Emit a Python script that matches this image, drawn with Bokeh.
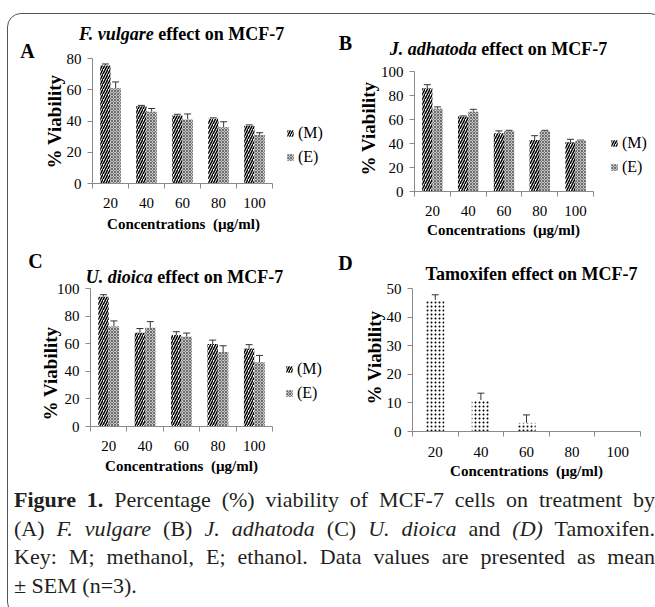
import math
from bokeh.plotting import figure
from bokeh.models import (Range1d, FixedTicker, Whisker, TeeHead, ColumnDataSource,
                          Label, Legend, LegendItem, Div, LinearAxis, Spacer)
from bokeh.layouts import row, column
from bokeh.embed import file_html
from bokeh.resources import INLINE

# ---------------- data ----------------
conc = ["20", "40", "60", "80", "100"]

fv_m = [75.5, 49.5, 43.5, 41.5, 37.0]
fv_m_err = [1.0, 0.5, 0.8, 0.5, 0.5]
fv_e = [61.0, 46.0, 41.0, 36.0, 31.0]
fv_e_err = [4.0, 2.0, 3.5, 3.5, 1.5]

ja_m = [86.0, 62.5, 48.5, 43.0, 41.0]
ja_m_err = [3.0, 0.5, 2.0, 3.5, 2.5]
ja_e = [69.0, 66.5, 50.5, 50.5, 42.5]
ja_e_err = [1.5, 2.0, 0.5, 0.5, 0.3]

ud_m = [94.0, 68.0, 66.3, 59.8, 56.6]
ud_m_err = [1.5, 3.0, 2.4, 2.8, 2.7]
ud_e = [72.5, 71.5, 65.0, 54.0, 46.5]
ud_e_err = [4.0, 4.5, 2.7, 4.5, 5.0]

tam = [46.0, 11.0, 3.0, 0.0, 0.0]
tam_err = [1.8, 2.4, 2.8, 0.0, 0.0]

yt_a = [0, 20, 40, 60, 80]
yt_b = [0, 20, 40, 60, 80, 100]
yt_c = [0, 20, 40, 60, 80, 100]
yt_d = [0, 10, 20, 30, 40, 50]

series_labels = ["(M)", "(E)"]

# ---------------- style ----------------
FONT = "Liberation Serif"
AX = "#8a8a8a"
INK = "#000000"
BOX_X, BOX_Y = 7, 13          # outer offset of the rounded frame
OX0, OY0 = BOX_X + 1, BOX_Y + 1  # page position of the content inside the 1px border

M_STYLE = dict(fill_color="white", hatch_pattern="right_diagonal_line", hatch_color="black",
               hatch_scale=5, hatch_weight=1.5)
E_STYLE = dict(fill_color="#c4c4c4", hatch_pattern="diagonal_cross", hatch_color="#6e6e6e",
               hatch_scale=3, hatch_weight=1)
T_STYLE = dict(fill_color="white", hatch_pattern="dot", hatch_color="black",
               hatch_scale=4, hatch_weight=3.8)


class Geo:
    def __init__(self, ox, oy, w, h):
        self.ox, self.oy, self.w, self.h = ox, oy, w, h


def panel(ox, oy, w, h, fl, fr, ft, fb, yticks, xstandoff):
    """Axis origin sits at page pixel (fl, fb); the axes end at (fr, ft)."""
    ncat = len(conc)
    ymax = yticks[-1]
    kx = (fr - fl) / ncat
    ky = (fb - ft) / ymax
    p = figure(width=w, height=h, output_backend="svg", toolbar_location=None,
               x_range=Range1d((ox - fl) / kx, (ox + w - fl) / kx),
               y_range=Range1d((fb - (oy + h)) / ky, (fb - oy) / ky),
               x_axis_location=None, y_axis_location=None,
               min_border=0, min_border_left=0, min_border_right=0,
               min_border_top=0, min_border_bottom=0)
    p.outline_line_color = None
    p.grid.visible = False
    p.background_fill_color = None
    p.border_fill_color = None

    centers = [i + 0.5 for i in range(ncat)]
    xa = LinearAxis(fixed_location=0, bounds=(0, ncat),
                    ticker=FixedTicker(ticks=centers, minor_ticks=list(range(ncat + 1))),
                    major_label_overrides={c: lab for c, lab in zip(centers, conc)})
    ya = LinearAxis(fixed_location=0, bounds=(0, ymax), ticker=FixedTicker(ticks=yticks))
    for ax in (xa, ya):
        ax.axis_line_color = AX
        ax.major_tick_line_color = AX
        ax.minor_tick_line_color = AX
        ax.major_label_text_font = FONT
        ax.major_label_text_font_size = "15px"
        ax.major_label_text_color = INK
    xa.major_tick_out = 0
    xa.major_tick_in = 0
    xa.minor_tick_out = 5
    xa.minor_tick_in = 0
    xa.major_label_standoff = xstandoff
    ya.major_tick_out = 5
    ya.major_tick_in = 0
    ya.minor_tick_line_color = None
    ya.major_label_standoff = 6
    p.add_layout(xa, "below")
    p.add_layout(ya, "left")
    p._geo = Geo(ox, oy, w, h)
    return p


def bars(p, vals, errs, offset, width, style):
    x = [i + 0.5 + offset for i in range(len(vals))]
    src = ColumnDataSource(dict(x=x, top=vals))
    r = p.vbar(x="x", top="top", bottom=0, width=width, source=src, line_color=None, **style)
    keep = [i for i, e in enumerate(errs) if e > 0]
    wsrc = ColumnDataSource(dict(x=[x[i] for i in keep],
                                 lo=[vals[i] for i in keep],
                                 up=[vals[i] + errs[i] for i in keep]))
    p.add_layout(Whisker(source=wsrc, base="x", lower="lo", upper="up", dimension="height",
                         line_color="#333333", line_width=1,
                         upper_head=TeeHead(size=7, line_color="#333333", line_width=1),
                         lower_head=None))
    return r


def put(p, px, py, text, size, style="bold", align="center", angle=0.0):
    g = p._geo
    p.add_layout(Label(x=px - g.ox, y=g.oy + g.h - py, x_units="screen", y_units="screen",
                       text=text, text_font=FONT, text_font_size=f"{size}px",
                       text_font_style=style, text_align=align, text_baseline="middle",
                       angle=angle, text_color=INK))


def title2(p, cx, cy, ital, rest, ital_em, rest_em, size=18):
    space = 0.25 * size
    total = (ital_em + rest_em) * size + space
    x0 = cx - total / 2
    split = x0 + ital_em * size
    put(p, split, cy, ital, size, "bold italic", "right")
    put(p, split + space, cy, rest, size, "bold", "left")


def legend(p, rm, re, swatch_left, top_center):
    g = p._geo
    bottom = top_center + 22 + 8 + 3
    leg = Legend(items=[LegendItem(label=series_labels[0], renderers=[rm]),
                        LegendItem(label=series_labels[1], renderers=[re])],
                 location=(swatch_left - g.ox, g.oy + g.h - bottom),
                 glyph_width=8, glyph_height=8, label_height=16, spacing=6,
                 padding=0, margin=0, label_standoff=4,
                 label_text_font=FONT, label_text_font_size="16px", label_text_color=INK,
                 background_fill_alpha=0, border_line_color=None)
    p.add_layout(leg)


BW2 = 1 / 3.5   # Excel gap width 150%, two series
BW1 = 1 / 2.5   # one series
CONC_LABEL = "Concentrations\u00a0 (\u00b5g/ml)"

W_L, W_R = 317, 328
H1, H2, H3 = 226, 240, 125

# ---- Panel A ----
ox, oy = OX0, OY0
pA = panel(ox, oy, W_L, H1, 92, 272, 58, 183, yt_a, 9)
rm = bars(pA, fv_m, fv_m_err, -BW2 / 2, BW2, M_STYLE)
re = bars(pA, fv_e, fv_e_err, BW2 / 2, BW2, E_STYLE)
legend(pA, rm, re, 286, 133)
put(pA, 27, 50, "A", 20)
title2(pA, 180, 33, "F. vulgare", "effect on MCF-7", 4.278, 6.997)
put(pA, 54, 121, "% Viability", 19, angle=math.pi / 2)
put(pA, 183, 223, CONC_LABEL, 15)

# ---- Panel B ----
ox, oy = OX0 + W_L, OY0
pB = panel(ox, oy, W_R, H1, 414, 593, 71, 191, yt_b, 9)
rm = bars(pB, ja_m, ja_m_err, -BW2 / 2, BW2, M_STYLE)
re = bars(pB, ja_e, ja_e_err, BW2 / 2, BW2, E_STYLE)
legend(pB, rm, re, 610, 143)
put(pB, 345, 42, "B", 20)
title2(pB, 498, 48, "J. adhatoda", "effect on MCF-7", 4.834, 6.997)
put(pB, 368, 128, "% Viability", 19, angle=math.pi / 2)
put(pB, 503, 229, CONC_LABEL, 15)

# ---- Panel C ----
ox, oy = OX0, OY0 + H1
pC = panel(ox, oy, W_L, H2, 90, 272, 288, 426, yt_c, 9)
rm = bars(pC, ud_m, ud_m_err, -BW2 / 2, BW2, M_STYLE)
re = bars(pC, ud_e, ud_e_err, BW2 / 2, BW2, E_STYLE)
legend(pC, rm, re, 285, 369)
put(pC, 35, 260, "C", 20)
title2(pC, 184, 276, "U. dioica", "effect on MCF-7", 3.722, 6.997)
put(pC, 50, 373, "% Viability", 19, angle=math.pi / 2)
put(pC, 181, 465, CONC_LABEL, 15)

# ---- Panel D ----
ox, oy = OX0 + W_L, OY0 + H1
pD = panel(ox, oy, W_R, H2, 412, 640, 288, 431, yt_d, 10)
bars(pD, tam, tam_err, 0.0, BW1, T_STYLE)
put(pD, 345, 262, "D", 20)
put(pD, 531, 273, "Tamoxifen effect on MCF-7", 18)
put(pD, 374, 357, "% Viability", 19, angle=math.pi / 2)
put(pD, 526, 470, CONC_LABEL, 15)

# ---- Caption ----
JL = "text-align:justify;text-align-last:justify;"
caption_html = (
    "<div style=\"font-family:'Liberation Serif',serif;font-size:22px;line-height:28.7px;"
    "color:#231f20;padding-top:1px;padding-left:1px;width:642px;\">"
    f"<div style='{JL}'><b>Figure 1.</b> Percentage (%) viability of MCF-7 cells on treatment by</div>"
    f"<div style='{JL}'>(A) <i>F. vulgare</i> (B) <i>J. adhatoda</i> (C) <i>U. dioica</i> and <i>(D)</i> Tamoxifen.</div>"
    f"<div style='{JL}'>Key: M; methanol, E; ethanol. Data values are presented as mean</div>"
    "<div>\u00b1 SEM (n=3).</div>"
    "</div>"
)
cap = Div(text=caption_html, width=W_L + W_R, height=H3)

boxed = column(row(pA, pB), row(pC, pD), cap,
               styles={"border": "1px solid #555555", "border-radius": "14px"})
layout = column(Spacer(height=BOX_Y), row(Spacer(width=BOX_X), boxed))

open("out.html", "w").write(file_html(layout, INLINE))
